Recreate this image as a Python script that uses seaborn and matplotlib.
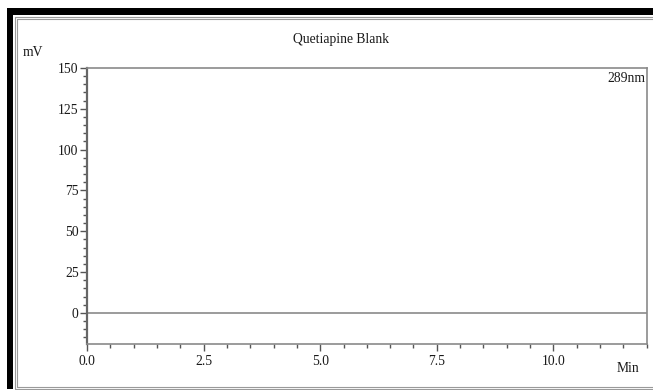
import matplotlib
matplotlib.use("Agg")
import matplotlib.pyplot as plt
import seaborn as sns
import pandas as pd
from matplotlib.ticker import MultipleLocator, FormatStrFormatter
from matplotlib.patches import Rectangle
from matplotlib.lines import Line2D

# ---- data ----
time_min = [0.0, 12.0]
signal_mv = [0.0, 0.0]
x_ticks = [0.0, 2.5, 5.0, 7.5, 10.0]
y_ticks = [0, 25, 50, 75, 100, 125, 150]
title = "Quetiapine Blank"
wavelength = "289nm"

df = pd.DataFrame({"Min": time_min, "mV": signal_mv})

sns.set_style("ticks")
plt.rcParams["font.family"] = ["Liberation Serif", "DejaVu Serif"]

W, H = 653, 390
fig = plt.figure(figsize=(W / 100, H / 100), dpi=100)
ax = fig.add_axes([87 / W, 1 - 344 / H, (646.7 - 87) / W, (344 - 68) / H])

gray = "#8a8a8a"
sns.lineplot(data=df, x="Min", y="mV", ax=ax, color=gray, linewidth=1.2)

ax.set_xlim(0, 12)
ax.set_ylim(-19, 150)
ax.set_xticks(x_ticks)
ax.set_yticks(y_ticks)
ax.xaxis.set_minor_locator(MultipleLocator(0.5))
ax.yaxis.set_minor_locator(MultipleLocator(5))
ax.xaxis.set_major_formatter(FormatStrFormatter("%.1f"))
ax.set_xlabel("")
ax.set_ylabel("")

for s in ax.spines.values():
    s.set_visible(True)
    s.set_color(gray)
    s.set_linewidth(1.2)
ax.spines["left"].set_color("#666666")
ax.spines["left"].set_linewidth(1.6)

fs = 9.8
tc = "#1a1a1a"
ax.tick_params(axis="both", which="major", direction="out", length=5, width=1,
               color="#555555", labelsize=fs, labelcolor=tc, pad=1)
ax.tick_params(axis="both", which="minor", direction="out", length=3, width=1,
               color="#555555")
ax.tick_params(axis="x", which="major", pad=3)

ax.text(0.997, 0.985, wavelength, transform=ax.transAxes, ha="right", va="top",
        fontsize=fs, color=tc)

def px(x, y):
    return x / W, 1 - y / H

fig.text(*px(341, 40), title, ha="center", va="center", fontsize=fs, color=tc)
fig.text(*px(33, 52), "mV", ha="center", va="center", fontsize=fs, color=tc)
fig.text(*px(628, 368), "Min", ha="center", va="center", fontsize=fs, color=tc)

# frame: black bands top and left, thin gray double lines
fig.patches.append(Rectangle(px(7, 15), (W - 7) / W, 7 / H, transform=fig.transFigure,
                             facecolor="black", edgecolor="none"))
fig.patches.append(Rectangle(px(7, 389), 6 / W, (389 - 8) / H, transform=fig.transFigure,
                             facecolor="black", edgecolor="none"))
for off in (0, 2):
    x0, y0 = 15 + off, 17 + off
    yb = 389 - off
    fig.lines.append(Line2D([x0 / W, 1], [1 - y0 / H, 1 - y0 / H], transform=fig.transFigure,
                            color="#9a9a9a", linewidth=0.8))
    fig.lines.append(Line2D([x0 / W, x0 / W], [1 - y0 / H, 1 - yb / H], transform=fig.transFigure,
                            color="#9a9a9a", linewidth=0.8))
    fig.lines.append(Line2D([x0 / W, 1], [1 - yb / H, 1 - yb / H], transform=fig.transFigure,
                            color="#9a9a9a", linewidth=0.8))

fig.savefig("out.png", dpi=100)
